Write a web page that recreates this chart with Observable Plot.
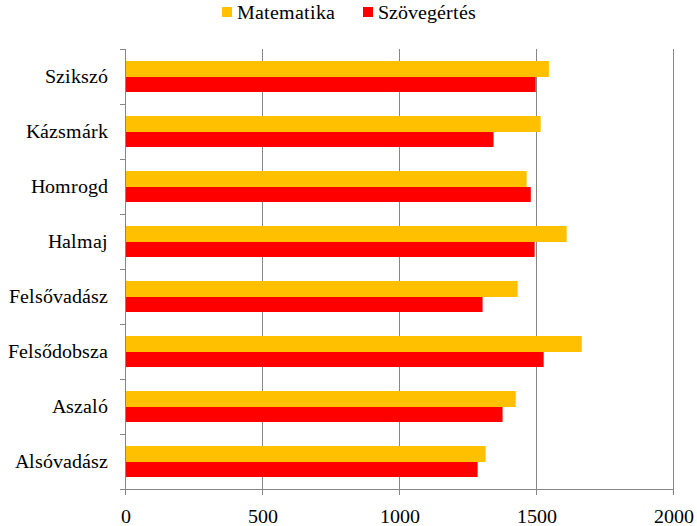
<!DOCTYPE html>
<html><head><meta charset="utf-8">
<style>
@font-face{font-family:"RefSerif";src:local("Liberation Serif"),local("LiberationSerif-Regular"),local("LiberationSerif");}
body{margin:0;background:#fff;font-family:"RefSerif","Liberation Serif","Times New Roman",serif;}
#wrap{position:relative;width:697px;height:526px;}
#legend{position:absolute;left:0;top:0;width:697px;height:24px;font-size:20px;display:flex;justify-content:center;}
.item{display:flex;align-items:center;margin:0 14px;line-height:20px;}
.sw{display:inline-block;width:10px;height:10px;margin-right:5px;}
#chart{position:absolute;left:0;top:24px;}
#chart svg text{font-family:"RefSerif","Liberation Serif","Times New Roman",serif;}
</style></head>
<body>
<div id="wrap"><div id="legend"></div><div id="chart"></div></div>
<script src="https://cdn.jsdelivr.net/npm/d3@7"></script>
<script src="https://cdn.jsdelivr.net/npm/@observablehq/plot@0.6"></script>
<script>
const categories = ["Szikszó","Kázsmárk","Homrogd","Halmaj","Felsővadász","Felsődobsza","Aszaló","Alsóvadász"];
const matematika = [1547,1517,1466,1612,1433,1667,1426,1316];
const szovegertes = [1499,1345,1481,1495,1305,1528,1378,1287];
const xTicks = [0,500,1000,1500,2000];
const seriesNames = ["Matematika","Szövegértés"];
const colors = ["#FFC000","#FF0000"];

const mat = categories.map((c,i)=>({cat:c, v:matematika[i]}));
const szo = categories.map((c,i)=>({cat:c, v:szovegertes[i]}));

const H = 502, marginTop = 25, marginBottom = 37;
const step = (H - marginTop - marginBottom) / categories.length;
const grey = "#868686";
const serif = '"RefSerif","Liberation Serif","Times New Roman",serif';

const chart = Plot.plot({
  width: 697, height: H,
  marginLeft: 125, marginRight: 24, marginTop, marginBottom,
  style: {fontFamily: serif, fontSize: "20px", color: "#000", background: "#fff", overflow: "visible"},
  x: {domain: [0,2000], label: null},
  y: {domain: categories, padding: 0, label: null},
  marks: [
    Plot.gridX(xTicks.slice(1), {stroke: grey, strokeOpacity: 1, strokeWidth: 1}),
    Plot.barX(mat, {y: "cat", x: "v", fill: colors[0], insetTop: step*12/55, insetBottom: step*27/55}),
    Plot.barX(szo, {y: "cat", x: "v", fill: colors[1], insetTop: step*28/55, insetBottom: step*12/55}),
    Plot.frame({anchor: "left", stroke: grey}),
    Plot.frame({anchor: "bottom", stroke: grey}),
    Plot.axisY({tickSize: 0, tickPadding: 18, fontSize: 20, fontFamily: serif, fill: "#000"}),
    Plot.axisY({tickSize: 5, tickFormat: null, dy: step/2, stroke: grey}),
    Plot.axisY({tickSize: 5, tickFormat: null, dy: -step/2, stroke: grey}),
    Plot.axisX(xTicks, {tickSize: 6, tickPadding: 13, stroke: grey, fill: "#000", fontSize: 20, fontFamily: serif, tickFormat: d => String(d)})
  ]
});
document.getElementById("chart").appendChild(chart);

const legend = document.getElementById("legend");
seriesNames.forEach((n,i)=>{
  const d = document.createElement("div");
  d.className = "item";
  const sw = document.createElement("span");
  sw.className = "sw";
  sw.style.background = colors[i];
  const t = document.createElement("span");
  t.textContent = n;
  d.appendChild(sw); d.appendChild(t);
  legend.appendChild(d);
});
</script></body></html>
